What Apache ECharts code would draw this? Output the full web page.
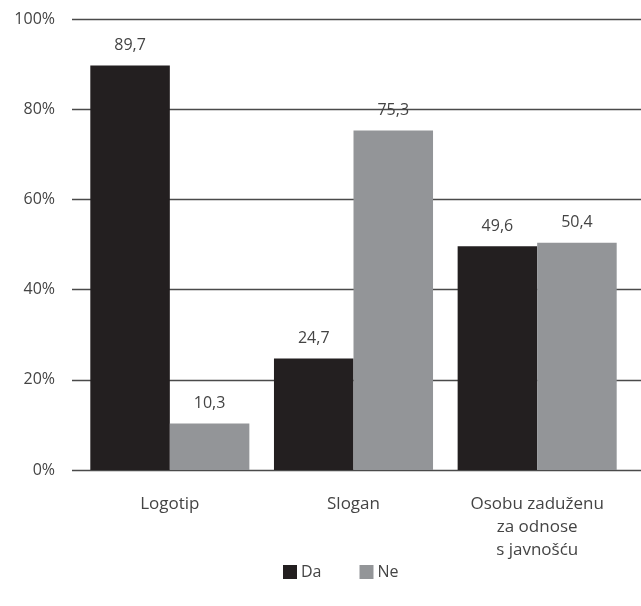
<!DOCTYPE html>
<html><head><meta charset="utf-8">
<script src="https://cdn.jsdelivr.net/npm/echarts@6/dist/echarts.min.js"></script>
<style>html,body{margin:0;padding:0;background:#fff}#c{width:641px;height:606px}</style>
</head><body><div id="c"></div>
<script>
const categories = ['Logotip', 'Slogan', 'Osobu zaduženu\nza odnose\ns javnošću'];
const daValues = [89.7, 24.7, 49.6];
const neValues = [10.3, 75.3, 50.4];
const seriesNames = ['Da', 'Ne'];
const yTicks = [0, 20, 40, 60, 80, 100];

const font = 'Open Sans';
const txt = '#444444';
const chart = echarts.init(document.getElementById('c'), null, {renderer: 'canvas'});
const labelFmt = p => String(p.value).replace('.', ',');
chart.setOption({
  animation: false,
  legend: {
    data: seriesNames,
    bottom: 21, left: 278,
    itemWidth: 14, itemHeight: 14, itemGap: 38,
    icon: 'rect',
    textStyle: {fontFamily: font, fontSize: 16, color: txt, padding: [0,0,0,-1]}
  },
  grid: [
    {left: 72, right: 0, top: 19, height: 451, containLabel: false},
    {left: 78, right: 12, top: 19, height: 451, containLabel: false}
  ],
  xAxis: [
    {type: 'category', gridIndex: 0, data: categories, show: false},
    {type: 'category', gridIndex: 1, data: categories,
     axisLine: {show: false}, axisTick: {show: false},
     axisLabel: {fontFamily: font, fontSize: 17, color: txt, margin: 23, lineHeight: 23}}
  ],
  yAxis: [
    {type: 'value', gridIndex: 0, min: 0, max: 100, interval: 20,
     axisLine: {show: false}, axisTick: {show: false},
     axisLabel: {formatter: v => v + '%', fontFamily: font, fontSize: 16, color: txt, margin: 17},
     splitLine: {lineStyle: {color: '#4a4a4a', width: 1.3}}},
    {type: 'value', gridIndex: 1, min: 0, max: 100, interval: 20, show: false, splitLine: {show: false}}
  ],
  series: [
    {name: seriesNames[0], type: 'bar', xAxisIndex: 1, yAxisIndex: 1, data: daValues,
     barGap: '0%', barCategoryGap: '13.4%',
     itemStyle: {color: '#231f20'},
     label: {show: true, position: 'top', distance: 12, formatter: labelFmt, fontFamily: font, fontSize: 16, color: txt}},
    {name: seriesNames[1], type: 'bar', xAxisIndex: 1, yAxisIndex: 1, data: neValues,
     barGap: '0%', barCategoryGap: '13.4%',
     itemStyle: {color: '#939598'},
     label: {show: true, position: 'top', distance: 12, formatter: labelFmt, fontFamily: font, fontSize: 16, color: txt}}
  ]
});
</script></body></html>
